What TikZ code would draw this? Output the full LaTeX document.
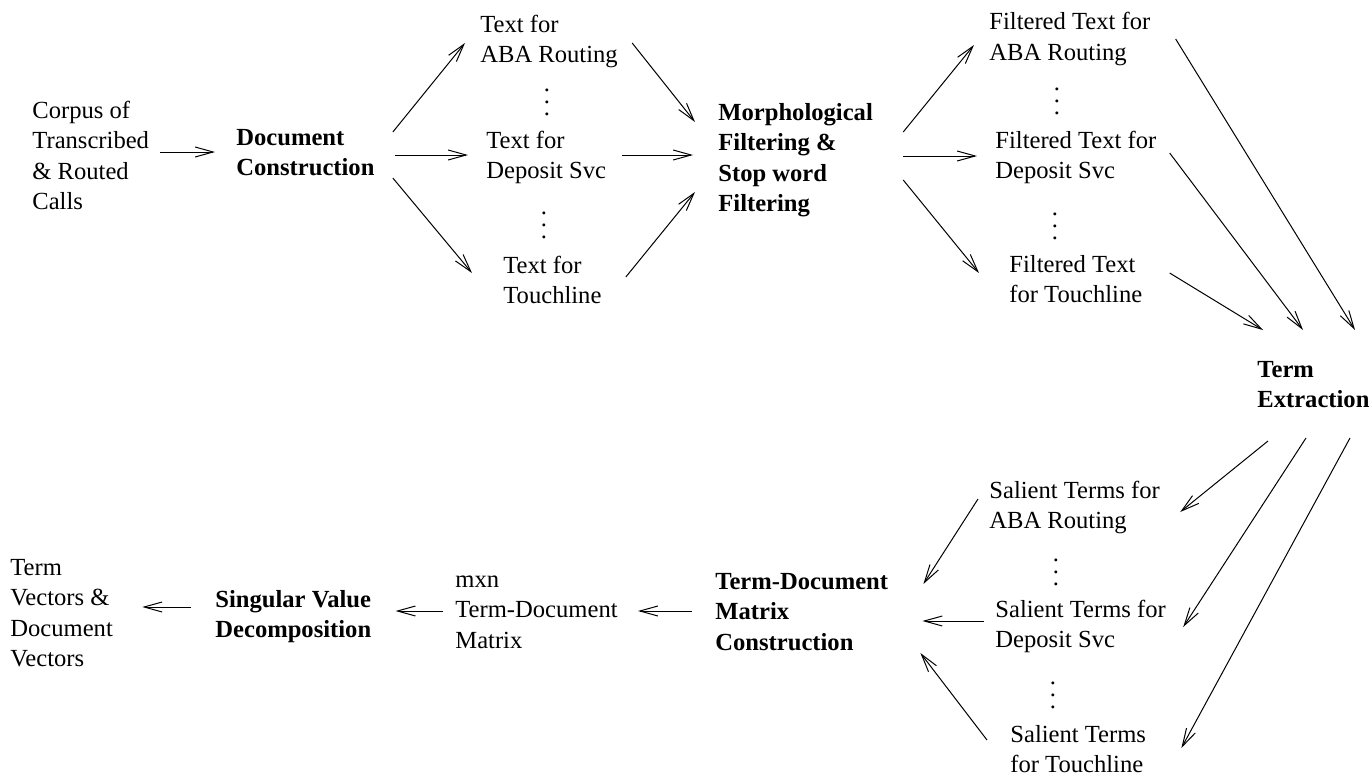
\documentclass[tikz,border=0pt]{standalone}
\usepackage{fontspec}
\setmainfont{Liberation Serif}
\usetikzlibrary{arrows.meta,calc,positioning}
\newcommand{\vdotz}{\vbox{\baselineskip6pt\lineskiplimit0pt\hbox{.}\hbox{.}\hbox{.}}}

\begin{document}
\begin{tikzpicture}[x=0.5pt,y=-0.5pt,
txtnode/.style={align=left, anchor=base west, inner sep=0pt, font=\fontsize{12.3pt}{15.25pt}\selectfont},
stepnode/.style={txtnode, font=\fontsize{12.3pt}{15.25pt}\selectfont\bfseries},
dotsnode/.style={inner sep=0pt, font=\fontsize{12.3pt}{15.25pt}\selectfont},
arr/.style={-{Straight Barb[length=9pt,width=5pt]}, line width=0.5pt},
]
\useasboundingbox (0,0) rectangle (1372,776);
%Nodes (placed at the baseline of their last line)
\node[txtnode]  (corpus) at (32,209.5)  {Corpus of\\Transcribed\\\& Routed\\Calls};
\node[stepnode] (doc)    at (236,175.5) {Document\\Construction};
\node[txtnode]  (aba)    at (480,62.5)  {Text for\\ABA Routing};
\node[txtnode]  (dep)    at (486,178.5) {Text for\\Deposit Svc};
\node[txtnode]  (tl)     at (503,303.5) {Text for\\Touchline};
\node[stepnode] (morph)  at (718,211.5) {Morphological\\Filtering \&\\Stop word\\Filtering};
\node[txtnode]  (fab)    at (989,60.5)  {Filtered Text for\\ABA Routing};
\node[txtnode]  (fdep)   at (995,178.5) {Filtered Text for\\Deposit Svc};
\node[txtnode]  (ftl)    at (1009,302.5) {Filtered Text\\for Touchline};
\node[stepnode] (term)   at (1257,407.5) {Term\\Extraction};
\node[txtnode]  (sab)    at (989,528.5) {Salient Terms for\\ABA Routing};
\node[txtnode]  (sdep)   at (995,647.5) {Salient Terms for\\Deposit Svc};
\node[txtnode]  (stl)    at (1010,772.5) {Salient Terms\\for Touchline};
\node[stepnode] (tdm)    at (715,650)   {Term-Document\\Matrix\\Construction};
\node[txtnode]  (mxn)    at (455,648)   {mxn\\Term-Document\\Matrix};
\node[stepnode] (svd)    at (215,637.5) {Singular Value\\Decomposition};
\node[txtnode]  (vec)    at (10,666.5)  {Term\\Vectors \&\\Document\\Vectors};
%Dots
\node[dotsnode] (dots1) at (547,102)  {\vdotz};
\node[dotsnode] (dots2) at (544,225)  {\vdotz};
\node[dotsnode] (dots3) at (1057,101) {\vdotz};
\node[dotsnode] (dots4) at (1055,226) {\vdotz};
\node[dotsnode] (dots5) at (1056,572) {\vdotz};
\node[dotsnode] (dots6) at (1053,695) {\vdotz};
%Arrows
\draw[arr] ($(corpus.base east)+(11,-57.5)$) -- ($(doc.base west)+(-21,-23.5)$);
\draw[arr] ($(doc.base east)+(18,-43.5)$) -- ($(aba.base west)+(-15,-19.5)$);
\draw[arr] ($(doc.base east)+(20,-20.5)$) -- ($(dep.base west)+(-18,-23.5)$);
\draw[arr] ($(doc.base east)+(18,2.5)$) -- ($(tl.base west)+(-31,-30.5)$);
\draw[arr] ($(aba.base east)+(14,-19.5)$) -- ($(morph.base west)+(-23,-89.5)$);
\draw[arr] ($(dep.base east)+(16,-23.5)$) -- ($(morph.base west)+(-25,-56.5)$);
\draw[arr] ($(tl.base east)+(24,-26.5)$) -- ($(morph.base west)+(-23,-19.5)$);
\draw[arr] ($(morph.base east)+(30,-79.5)$) -- ($(fab.base west)+(-15,-15.5)$);
\draw[arr] ($(morph.base east)+(30,-55.5)$) -- ($(fdep.base west)+(-18,-22.5)$);
\draw[arr] ($(morph.base east)+(30,-31.5)$) -- ($(ftl.base west)+(-30,-29.5)$);
\draw[arr] ($(fab.base east)+(25,-21.5)$) -- ($(term.base west)+(98,-77.5)$);
\draw[arr] ($(fdep.base east)+(13,-25.5)$) -- ($(term.base west)+(46,-77.5)$);
\draw[arr] ($(ftl.base east)+(27,-29.5)$) -- ($(term.base west)+(6,-77.5)$);
\draw[arr] ($(term.base west)+(11,33.5)$) -- ($(sab.base east)+(20,-16.5)$);
\draw[arr] ($(term.base west)+(49,30.5)$) -- ($(sdep.base east)+(17,-20.5)$);
\draw[arr] ($(term.base west)+(93,30.5)$) -- ($(stl.base east)+(35,-24.5)$);
\draw[arr] ($(sab.base west)+(-11,-29.5)$) -- ($(tdm.base east)+(35,-66)$);
\draw[arr] ($(sdep.base west)+(-11,-26.5)$) -- ($(tdm.base east)+(34,-29)$);
\draw[arr] ($(stl.base west)+(-23,-32.5)$) -- ($(tdm.base east)+(32,3)$);
\draw[arr] ($(tdm.base west)+(-23,-39)$) -- ($(mxn.base east)+(20,-37)$);
\draw[arr] ($(mxn.base west)+(-12,-37)$) -- ($(svd.base east)+(24,-26.5)$);
\draw[arr] ($(svd.base west)+(-24,-30.5)$) -- ($(vec.base east)+(29,-59.5)$);
\end{tikzpicture}
\end{document}
